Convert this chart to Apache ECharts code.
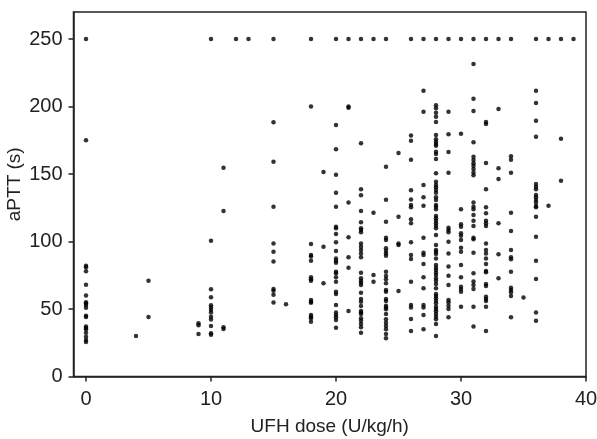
<!DOCTYPE html>
<html>
<head>
<meta charset="utf-8">
<script src="https://cdn.jsdelivr.net/npm/echarts@6/dist/echarts.min.js"></script>
<style>html,body{margin:0;padding:0;background:#fff;}#c{width:597px;height:439px;}</style>
</head>
<body>
<div id="c"></div>
<script>
// UFH dose levels (U/kg/h) and the aPTT values (s) observed at each dose
const doseLevels = [0, 4, 5, 9, 10, 11, 12, 13, 15, 16, 18, 19, 20, 21, 22, 23, 24, 25, 26, 27, 28, 29, 30, 31, 32, 33, 34, 35, 36, 37, 38, 39];
const apttByDose = [
  [250, 175, 82, 81, 78, 68, 60, 55, 54, 53, 51, 45, 44, 37, 36, 35, 32.5, 29.5, 27, 25.6],
  [30],
  [71, 44],
  [39.4, 38, 31.5],
  [250, 100.6, 64.6, 58.7, 52.7, 51.2, 49.3, 47.5, 44.3, 42.3, 37.4, 32, 31],
  [154.7, 122.6, 36.4, 35.2],
  [250],
  [250],
  [250, 188.3, 159.1, 125.8, 98.6, 92.5, 85.1, 64.8, 63.6, 60.6, 54.9],
  [53.5],
  [250, 200, 98.1, 90, 88.8, 85.8, 73.5, 72, 71, 56.7, 55.4, 54.7, 45.6, 44.3, 43.1, 40.6],
  [151.5, 96.2, 69],
  [250, 186.3, 168.3, 149.5, 136.2, 125.8, 111, 109.8, 105.6, 99.4, 93, 87.5, 85.8, 84.3, 77.6, 76.4, 73.5, 70.2, 62.8, 61.1, 52.9, 47.5, 45.6, 43.8, 41.9, 36.2],
  [250, 200, 199, 128.8, 103.1, 88.3, 80.6, 48.5],
  [250, 172.7, 138.7, 134.2, 122.6, 114.2, 109.8, 108.5, 106.8, 98.6, 96.2, 93.7, 91.2, 88.3, 76.9, 72.7, 71, 69.5, 67.8, 62, 57.4, 55.4, 52.2, 48.6, 47.5, 46.3, 43.1, 41.3, 38.9, 36.4, 32.4],
  [250, 121.3, 75.2, 70.2],
  [250, 155.4, 131, 114.7, 102.8, 101.1, 95, 93, 91.2, 89.5, 77.6, 74.4, 72, 69, 64.1, 62.8, 57.4, 55.9, 52.4, 51.2, 49.8, 46.3, 42.4, 39.9, 37.4, 35, 31.5, 28.3],
  [165.6, 118.4, 98.6, 97.4, 63.3],
  [250, 178.6, 174.7, 160.6, 137.9, 131.2, 127, 125.3, 116.4, 113.5, 99.4, 90, 87, 70.2, 52.9, 51.2, 42.6, 33.7],
  [250, 211.7, 196.2, 141.9, 132.7, 126.5, 102.8, 91.7, 90, 83.3, 73.5, 65.3, 52.9, 51.2, 45.6, 35],
  [250, 200.9, 198.7, 195.4, 192.5, 188.5, 178.9, 175.7, 173.9, 172.2, 171, 166.5, 164.8, 161.1, 150.5, 144.3, 141.9, 140.1, 138.1, 136.2, 132.7, 130.7, 127, 125.8, 123.8, 118.9, 117.2, 115.4, 113.5, 111.7, 109.8, 104.8, 97.4, 93.7, 92.5, 90.7, 87.5, 82.6, 80.6, 78.9, 76.9, 75.2, 72.7, 71, 68.5, 65.3, 61.1, 59.6, 57.9, 56.2, 54.2, 51.7, 50, 48.4, 46.3, 44.3, 42.4, 38.9, 30],
  [250, 196.2, 179.4, 166.3, 151, 110.2, 108.5, 106.8, 99.9, 91.2, 81.4, 74.6, 67.8, 56.7, 55, 52.4, 50, 43.8],
  [250, 179.9, 123.8, 112.7, 111, 106.1, 104.3, 101.1, 95.4, 92.5, 82.6, 73.5, 66.5, 64.8, 62.8, 51.7],
  [250, 231.5, 205.8, 196.7, 173.5, 162.8, 160.4, 157.9, 156.2, 153.7, 151.2, 149, 128.8, 125.8, 123.8, 119.6, 115.4, 111.5, 102.8, 101.6, 91.7, 76.4, 70.4, 67.8, 64.8, 51.7, 37],
  [250, 188.5, 187, 158.1, 138.7, 125.3, 120.9, 115.4, 113.5, 111.5, 98.6, 93.7, 91.2, 87.5, 83.3, 78.1, 77.2, 68.5, 67, 59.1, 57.4, 55.9, 51.7, 33.7],
  [250, 198.1, 154.2, 146.3, 113.5, 90.5, 72.7],
  [250, 163.1, 160.6, 151, 121.3, 107.8, 93.7, 88.4, 86.8, 77.6, 65.8, 64.1, 62.4, 59.6, 43.8],
  [58.6],
  [250, 211.7, 202.6, 189.5, 177.6, 142.6, 140.6, 138.7, 134.4, 132.7, 130.7, 128.8, 126.3, 125.3, 118.4, 103.6, 85.8, 72.2, 47.5, 41.3],
  [250, 126.5],
  [250, 176.1, 145],
  [250]
];
const xTicks = [0, 10, 20, 30, 40];
const yTicks = [0, 50, 100, 150, 200, 250];
const xTitle = 'UFH dose (U/kg/h)';
const yTitle = 'aPTT (s)';

const points = [];
doseLevels.forEach((d, i) => apttByDose[i].forEach(v => points.push([d, v])));

const font = "'Liberation Sans', Arial, sans-serif";
const txt = '#222';
const chart = echarts.init(document.getElementById('c'), null, {renderer: 'canvas'});
chart.setOption({
  animation: false,
  grid: {left: 73.5, top: 12, right: 11, bottom: 62.5, show: true, borderColor: '#222', borderWidth: 1.5,
         backgroundColor: 'transparent', containLabel: false, outerBoundsMode: 'none'},
  xAxis: {
    type: 'value', min: -1, max: 40,
    name: xTitle, nameLocation: 'middle', nameGap: 41, nameMoveOverlap: false,
    nameTextStyle: {fontFamily: font, fontSize: 19, color: txt},
    splitLine: {show: false},
    axisLine: {show: true, onZero: false, lineStyle: {color: '#222', width: 1.5}},
    axisTick: {show: true, length: 5, lineStyle: {color: '#222', width: 1.5}, customValues: xTicks},
    axisLabel: {fontFamily: font, fontSize: 20, color: txt, margin: 12.5, customValues: xTicks}
  },
  yAxis: {
    type: 'value', min: 0, max: 270,
    name: yTitle, nameLocation: 'middle', nameGap: 49, nameMoveOverlap: false,
    nameTextStyle: {fontFamily: font, fontSize: 19, color: txt, padding: [0, 0, 0, 20]},
    splitLine: {show: false},
    axisLine: {show: true, onZero: false, lineStyle: {color: '#222', width: 1.5}},
    axisTick: {show: true, length: 5, lineStyle: {color: '#222', width: 1.5}, customValues: yTicks},
    axisLabel: {fontFamily: font, fontSize: 20, color: txt, margin: 11, customValues: yTicks}
  },
  series: [{
    type: 'scatter', data: points, symbol: 'circle', symbolSize: 4.5,
    itemStyle: {color: '#000'}, silent: true
  }]
});
</script>
</body>
</html>
